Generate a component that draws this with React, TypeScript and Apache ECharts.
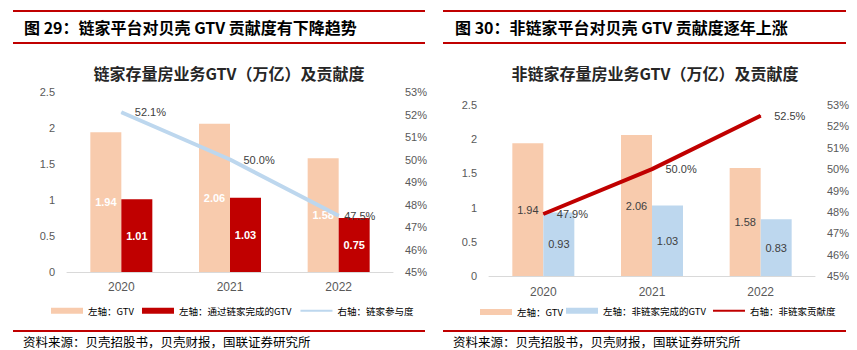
import React, { useEffect, useRef } from "react";
import * as echarts from "echarts";

const categories = ["2020", "2021", "2022"];
const leftGtv = [1.94, 2.06, 1.58];
const leftLianjiaGtv = [1.01, 1.03, 0.75];
const leftShare = [52.1, 50.0, 47.5];
const rightGtv = [1.94, 2.06, 1.58];
const rightNonLianjiaGtv = [0.93, 1.03, 0.83];
const rightShare = [47.9, 50.0, 52.5];

const leftHeader = "图 29：链家平台对贝壳 GTV 贡献度有下降趋势";
const rightHeader = "图 30：非链家平台对贝壳 GTV 贡献度逐年上涨";
const leftTitle = "链家存量房业务GTV（万亿）及贡献度";
const rightTitle = "非链家存量房业务GTV（万亿）及贡献度";
const sourceText = "资料来源：贝壳招股书，贝壳财报，国联证券研究所";
const leftNames = ["左轴：GTV", "左轴：通过链家完成的GTV", "右轴：链家参与度"];
const rightNames = ["左轴：GTV", "左轴：非链家完成的GTV", "右轴：非链家贡献度"];

const CJK = "'Noto Sans CJK SC', sans-serif";
const NUM = "'Liberation Sans', Arial, sans-serif";
const RED = "#C00000";
const ORANGE = "#F8CBAD";
const BLUE = "#BDD7EE";
const AXIS_TXT = "#595959";

export default function App() {
  const ref = useRef<HTMLDivElement>(null);
  useEffect(() => {
    document.body.style.margin = "0";
    const chart = echarts.init(ref.current!, null, { renderer: "svg" });

    const xAxisBase = (gridIndex: number, margin: number) => ({
      type: "category",
      gridIndex,
      data: categories,
      axisLine: { lineStyle: { color: "#D9D9D9", width: 1 } },
      axisTick: { show: false },
      axisLabel: { color: AXIS_TXT, fontSize: 12, fontFamily: NUM, margin },
    });
    const yLeft = (gridIndex: number) => ({
      type: "value",
      gridIndex,
      min: 0,
      max: 2.5,
      interval: 0.5,
      splitLine: { show: false },
      axisLine: { show: false },
      axisTick: { show: false },
      axisLabel: { color: AXIS_TXT, fontSize: 11, fontFamily: NUM, margin: 12 },
    });
    const yRight = (gridIndex: number) => ({
      type: "value",
      gridIndex,
      position: "right",
      min: 45,
      max: 53,
      interval: 1,
      splitLine: { show: false },
      axisLine: { show: false },
      axisTick: { show: false },
      axisLabel: {
        color: AXIS_TXT,
        fontSize: 11,
        fontFamily: NUM,
        margin: 12,
        formatter: "{value}%",
      },
    });

    const pctLabel = (distance: number) => ({
      show: true,
      position: "right",
      distance,
      color: "#404040",
      fontSize: 11,
      fontFamily: NUM,
      formatter: (p: any) => Number(p.value).toFixed(1) + "%",
    });

    const headerLines = (x1: number, x2: number) =>
      [11, 43, 331].map((y) => ({
        type: "line",
        shape: { x1, y1: y, x2, y2: y },
        style: { stroke: RED, lineWidth: 2 },
        silent: true,
      }));

    const legendText = { fontSize: 9.5, fontFamily: CJK, color: "#000" };

    const option: any = {
      animation: false,
      backgroundColor: "#fff",
      grid: [
        { left: 67, top: 92, width: 326, height: 180 },
        { left: 489, top: 105, width: 326, height: 171 },
      ],
      xAxis: [xAxisBase(0, 9), xAxisBase(1, 10)],
      yAxis: [yLeft(0), yRight(0), yLeft(1), yRight(1)],
      legend: [
        {
          left: 51,
          top: 306,
          padding: 0,
          itemGap: 8,
          itemWidth: 32,
          itemHeight: 6,
          textStyle: legendText,
          data: [
            { name: leftNames[0], icon: "rect" },
            { name: leftNames[1], icon: "rect" },
            { name: leftNames[2], itemStyle: { opacity: 0 } },
          ],
        },
        {
          left: 566,
          top: 306,
          padding: 0,
          itemGap: 6,
          itemWidth: 32,
          itemHeight: 6,
          textStyle: legendText,
          data: [
            { name: rightNames[1], icon: "rect" },
            { name: rightNames[2], itemStyle: { opacity: 0 } },
          ],
        },
      ],
      series: [
        {
          name: leftNames[0],
          type: "bar",
          xAxisIndex: 0,
          yAxisIndex: 0,
          data: leftGtv,
          barWidth: 31,
          barGap: "0%",
          itemStyle: { color: ORANGE },
          label: {
            show: true,
            position: "inside",
            color: "#fff",
            fontSize: 11,
            fontWeight: "bold",
            fontFamily: NUM,
          },
        },
        {
          name: leftNames[1],
          type: "bar",
          xAxisIndex: 0,
          yAxisIndex: 0,
          data: leftLianjiaGtv,
          barWidth: 31,
          barGap: "0%",
          itemStyle: { color: RED },
          label: {
            show: true,
            position: "inside",
            color: "#fff",
            fontSize: 11,
            fontWeight: "bold",
            fontFamily: NUM,
          },
        },
        {
          name: leftNames[2],
          type: "line",
          xAxisIndex: 0,
          yAxisIndex: 1,
          data: leftShare.map((v, i) =>
            i === 2 ? { value: v, label: { distance: 5 } } : { value: v }
          ),
          symbol: "circle",
          symbolSize: 1,
          showSymbol: true,
          lineStyle: { color: BLUE, width: 4 },
          itemStyle: { color: BLUE },
          label: pctLabel(13),
          labelLayout: { hideOverlap: false },
          z: 5,
        },
        {
          name: rightNames[0],
          type: "bar",
          xAxisIndex: 1,
          yAxisIndex: 2,
          data: rightGtv,
          barWidth: 31,
          barGap: "0%",
          itemStyle: { color: ORANGE },
          label: {
            show: true,
            position: "inside",
            color: "#404040",
            fontSize: 11,
            fontFamily: NUM,
          },
        },
        {
          name: rightNames[1],
          type: "bar",
          xAxisIndex: 1,
          yAxisIndex: 2,
          data: rightNonLianjiaGtv,
          barWidth: 31,
          barGap: "0%",
          itemStyle: { color: BLUE },
          label: {
            show: true,
            position: "inside",
            color: "#404040",
            fontSize: 11,
            fontFamily: NUM,
          },
        },
        {
          name: rightNames[2],
          type: "line",
          xAxisIndex: 1,
          yAxisIndex: 3,
          data: rightShare,
          symbol: "circle",
          symbolSize: 1,
          showSymbol: true,
          lineStyle: { color: RED, width: 4 },
          itemStyle: { color: RED },
          label: pctLabel(13),
          labelLayout: { hideOverlap: false },
          z: 5,
        },
      ],
      graphic: [
        ...headerLines(13, 425),
        ...headerLines(443, 846),
        {
          type: "text",
          x: 24,
          y: 27,
          style: {
            text: leftHeader,
            fontSize: 16,
            fontWeight: "bold",
            fontFamily: CJK,
            fill: "#000",
            textVerticalAlign: "middle",
          },
        },
        {
          type: "text",
          x: 455,
          y: 27,
          style: {
            text: rightHeader,
            fontSize: 16,
            fontWeight: "bold",
            fontFamily: CJK,
            fill: "#000",
            textVerticalAlign: "middle",
          },
        },
        {
          type: "text",
          x: 229,
          y: 73,
          style: {
            text: leftTitle,
            fontSize: 16,
            fontWeight: "bold",
            fontFamily: CJK,
            fill: "#262626",
            textAlign: "center",
            textVerticalAlign: "middle",
          },
        },
        {
          type: "text",
          x: 655,
          y: 73,
          style: {
            text: rightTitle,
            fontSize: 16,
            fontWeight: "bold",
            fontFamily: CJK,
            fill: "#262626",
            textAlign: "center",
            textVerticalAlign: "middle",
          },
        },
        {
          type: "text",
          x: 23,
          y: 341,
          style: {
            text: sourceText,
            fontSize: 12.5,
            fontFamily: CJK,
            fill: "#000",
            textVerticalAlign: "middle",
          },
        },
        {
          type: "text",
          x: 453,
          y: 341,
          style: {
            text: sourceText,
            fontSize: 12.5,
            fontFamily: CJK,
            fill: "#000",
            textVerticalAlign: "middle",
          },
        },
        // legend entry for right panel GTV (its name is shared with the left panel's series)
        {
          type: "rect",
          shape: { x: 480, y: 309, width: 32, height: 6 },
          style: { fill: ORANGE },
        },
        {
          type: "text",
          x: 517,
          y: 312,
          style: {
            text: rightNames[0],
            fontSize: 9.5,
            fontFamily: CJK,
            fill: "#000",
            textVerticalAlign: "middle",
          },
        },
      ],
    };
    chart.setOption(option);
    return () => chart.dispose();
  }, []);
  return (
    <div
      ref={ref}
      style={{ position: "absolute", left: 0, top: 0, width: 857, height: 350, background: "#fff" }}
    />
  );
}
